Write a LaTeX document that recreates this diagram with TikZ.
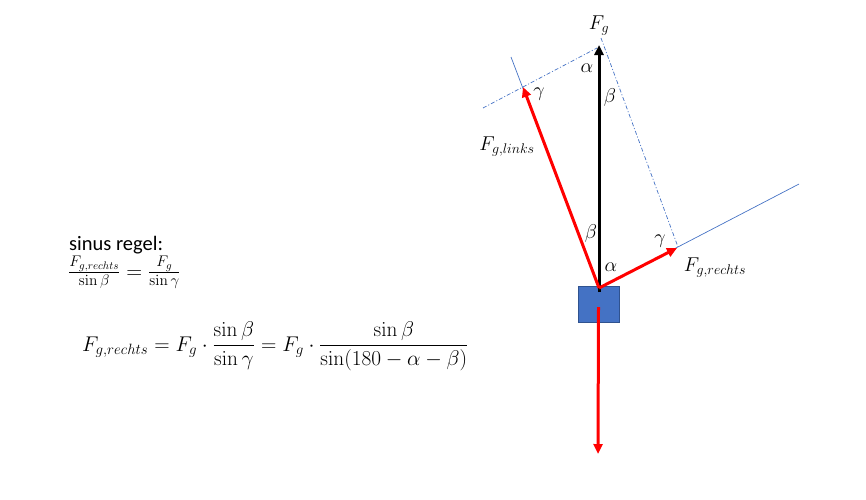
\RequirePackage{fix-cm}
\documentclass[tikz,border=0pt]{standalone}
\usepackage{amsmath}
\usepackage[no-math]{fontspec}
\setmainfont{Carlito}
\usetikzlibrary{positioning}
\usetikzlibrary{arrows.meta}
\definecolor{lijnblauw}{RGB}{68,114,196}
\definecolor{randblauw}{RGB}{47,82,143}

\begin{document}
\begin{tikzpicture}[x=1pt, y=-1pt,
    kracht/.style={line width=3pt, -{Triangle[length=10pt,width=9pt]}},
    hulplijn/.style={draw=lijnblauw, line width=0.7pt},
    streeppunt/.style={hulplijn, dash pattern=on 4pt off 2pt on 1pt off 2pt},
    label/.style={font=\fontsize{20}{22}\selectfont, inner sep=0pt}]
  \useasboundingbox (0,0) rectangle (866,499);

  % Punten
  \coordinate (o) at (599,288);
  \coordinate (start) at (599,292);
  \coordinate (g) at (599,45);
  \coordinate (l) at (523,87);
  \coordinate (r) at (677,248);
  \coordinate (onder) at (598,454);
  \coordinate (lverder) at (511,57);
  \coordinate (rverder) at (799,184);
  \coordinate (s1) at (483,108);
  \coordinate (s2) at (597,48);
  \coordinate (s3) at (601,38);
  \coordinate (s4) at (678,247);

  % Hulplijnen
  \draw[hulplijn] (o) -- (lverder);
  \draw[hulplijn] (o) -- (rverder);
  \draw[streeppunt] (s1) -- (s2);
  \draw[streeppunt] (s3) -- (s4);

  % Blok
  \node[draw=randblauw, fill=lijnblauw, line width=0.8pt, minimum width=41pt, minimum height=36pt] (blok) at (598.5,304) {};

  % Krachten
  \draw[kracht, black] (start) -- (g);
  \draw[kracht, red] (o) -- (l);
  \draw[kracht, red] (o) -- (r);
  \draw[kracht, red] (blok.center) ++(0,3) -- (onder);

  % Labels
  \node[label, anchor=base] (fg) at (599,29) {$F_g$};
  \node[label] (alfa1) at (587,68) {$\alpha$};
  \node[label] (beta1) at (610,97) {$\beta$};
  \node[label] (gamma1) at (539,94) {$\gamma$};
  \node[label] (links) at (507,147) {$F_{g,links}$};
  \node[label] (beta2) at (591,233) {$\beta$};
  \node[label] (gamma2) at (660,241) {$\gamma$};
  \node[label] (alfa2) at (611,267) {$\alpha$};
  \node[label] (rechts) at (715,268) {$F_{g,rechts}$};

  % Sinusregel
  \node[anchor=base west, inner sep=0pt, font=\fontsize{20.5}{22}\selectfont] (regel) at (69,250) {sinus regel:};
  \node[anchor=base west, inner sep=0pt, font=\fontsize{22}{24}\selectfont] (breuk) at (68,278) {$\frac{F_{g,rechts}}{\sin\beta}=\frac{F_g}{\sin\gamma}$};
  \node[anchor=base west, inner sep=0pt, font=\fontsize{21.3}{23}\selectfont] (formule) at (82,351) {$\displaystyle F_{g,rechts}=F_g\cdot\frac{\sin\beta}{\sin\gamma}=F_g\cdot\frac{\sin\beta}{\sin(180-\alpha-\beta)}$};
\end{tikzpicture}
\end{document}
